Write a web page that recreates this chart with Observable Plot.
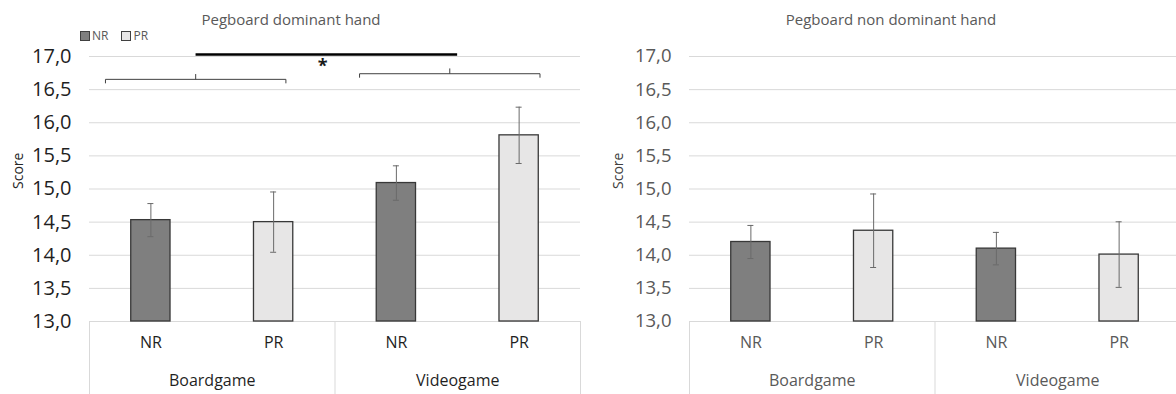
<!DOCTYPE html>
<html>
<head>
<meta charset="utf-8">
<script src="https://cdn.jsdelivr.net/npm/d3@7"></script>
<script src="https://cdn.jsdelivr.net/npm/@observablehq/plot@0.6"></script>
<style>
  html, body { margin: 0; padding: 0; background: #fff; overflow: hidden; width: 1176px; height: 394px; }
  #root { position: relative; width: 1176px; height: 394px; font-family: "Open Sans", sans-serif; }
  .panel { position: absolute; top: 0; }
  .title { position: absolute; top: 9px; width: 582px; text-align: center; font-size: 15px; color: #595959; }
  .legend { position: absolute; left: 80px; top: 27px; font-size: 12px; color: #595959; display: flex; align-items: center; }
  .legend .sw { display: inline-block; width: 8px; height: 8px; border: 1px solid #404040; margin-right: 2px; }
  .legend .item { display: flex; align-items: center; margin-right: 13px; }
</style>
</head>
<body>
<div id="root"></div>
<script>
// Pegboard scores by game type and condition
const groups = ["Boardgame", "Videogame"];
const conditions = ["NR", "PR"];
const dominantMean = [14.53, 14.50, 15.09, 15.81];
const dominantErr = [0.25, 0.455, 0.26, 0.425];
const nonDominantMean = [14.20, 14.37, 14.10, 14.01];
const nonDominantErr = [0.25, 0.555, 0.245, 0.495];
const yTicks = [13, 13.5, 14, 14.5, 15, 15.5, 16, 16.5, 17];

// significance annotation (dominant hand): group brackets and the joining line
const bracketFrom = [0.13, 2.2];
const bracketTo = [1.6, 3.67];
const bracketLevel = [16.655, 16.74];
const sigFrom = 0.864;
const sigTo = 2.995;
const sigLevel = 17.03;
const sigMark = "*";
const sigMarkAt = [1.9, 16.85];

const conditionFill = {NR: "#7f7f7f", PR: "#e7e6e6"};
const barHalf = 0.16;           // half bar width, in category steps
const fmt = v => d3.format(".1f")(v).replace(".", ",");

// one bar per group x condition, placed at the middle of its slot
const cells = groups.flatMap((g, gi) =>
  conditions.map((c, ci) => ({group: g, condition: c, pos: gi * 2 + ci + 0.5})));

function panel({mean, err, width, marginRight, tickFont, tickColor, labelColor, scoreColor, extra = []}) {
  const rows = cells.map((d, i) => ({...d, mean: mean[i], lo: mean[i] - err[i], hi: mean[i] + err[i]}));
  return Plot.plot({
    width, height: 394,
    marginLeft: 89, marginRight, marginTop: 56, marginBottom: 73,
    x: {domain: [0, 4], axis: null},
    y: {domain: [13, 17], axis: null},
    style: {fontFamily: "Open Sans", background: "transparent", overflow: "visible"},
    marks: [
      Plot.ruleY(yTicks, {stroke: "#d9d9d9", strokeWidth: 1}),
      Plot.ruleX([0, 2, 4], {stroke: "#d9d9d9", insetTop: 265, insetBottom: -73}),
      Plot.rect(rows, {
        x1: d => d.pos - barHalf, x2: d => d.pos + barHalf, y1: 13, y2: "mean",
        fill: d => conditionFill[d.condition], stroke: "#383838", strokeWidth: 1.3
      }),
      Plot.ruleX(rows, {x: "pos", y1: "lo", y2: "hi", stroke: "#6a6a6a", strokeWidth: 1}),
      Plot.ruleY(rows, {y: "hi", x1: "pos", x2: "pos", insetLeft: -3, insetRight: -3, stroke: "#6a6a6a"}),
      Plot.ruleY(rows, {y: "lo", x1: "pos", x2: "pos", insetLeft: -3, insetRight: -3, stroke: "#6a6a6a"}),
      Plot.text(yTicks, {y: d => d, text: fmt, frameAnchor: "left", textAnchor: "end", dx: -18,
        fontSize: tickFont, fill: tickColor}),
      Plot.text(rows, {x: "pos", text: "condition", frameAnchor: "bottom", dy: 26, fontSize: 16, fill: labelColor}),
      Plot.text(groups, {x: (d, i) => i * 2 + 1, text: d => d, frameAnchor: "bottom", dy: 64, fontSize: 16, fill: labelColor}),
      Plot.text(["Score"], {text: d => d, frameAnchor: "left", rotate: -90, dx: -71, fontSize: 14, fill: scoreColor}),
      ...extra
    ]
  });
}

const bracketSegs = bracketFrom.flatMap((a, i) => {
  const b = bracketTo[i], y = bracketLevel[i], m = (a + b) / 2;
  return [
    {x1: a, y1: y - 0.06, x2: a, y2: y},
    {x1: a, y1: y, x2: b, y2: y},
    {x1: b, y1: y, x2: b, y2: y - 0.06},
    {x1: m, y1: y, x2: m, y2: y + 0.08}
  ];
});

const annotations = [
  Plot.link(bracketSegs, {x1: "x1", y1: "y1", x2: "x2", y2: "y2", stroke: "#404040", strokeWidth: 1}),
  Plot.link([{x1: sigFrom, x2: sigTo, y: sigLevel}], {x1: "x1", x2: "x2", y1: "y", y2: "y", stroke: "#000", strokeWidth: 2.6}),
  Plot.text([sigMark], {x: sigMarkAt[0], y: sigMarkAt[1], text: d => d, fontSize: 18, fontWeight: "bold", fill: "#1a1a1a"})
];

const root = document.getElementById("root");

const left = panel({
  mean: dominantMean, err: dominantErr, width: 600, marginRight: 20,
  tickFont: 20, tickColor: "#1f1f1f", labelColor: "#1f1f1f", scoreColor: "#262626", extra: annotations
});
left.classList.add("panel");
left.style.left = "0px";
root.appendChild(left);

const right = panel({
  mean: nonDominantMean, err: nonDominantErr, width: 580, marginRight: 0,
  tickFont: 18.5, tickColor: "#595959", labelColor: "#595959", scoreColor: "#404040"
});
right.classList.add("panel");
right.style.left = "600px";
root.appendChild(right);

// titles
[["Pegboard dominant hand", 0], ["Pegboard non dominant hand", 600]].forEach(([t, x]) => {
  const el = document.createElement("div");
  el.className = "title";
  el.style.left = x + "px";
  el.textContent = t;
  root.appendChild(el);
});

// legend
const legend = document.createElement("div");
legend.className = "legend";
conditions.forEach(c => {
  const item = document.createElement("span");
  item.className = "item";
  const sw = document.createElement("span");
  sw.className = "sw";
  sw.style.background = conditionFill[c];
  item.appendChild(sw);
  item.appendChild(document.createTextNode(c));
  legend.appendChild(item);
});
root.appendChild(legend);
</script>
</body>
</html>
